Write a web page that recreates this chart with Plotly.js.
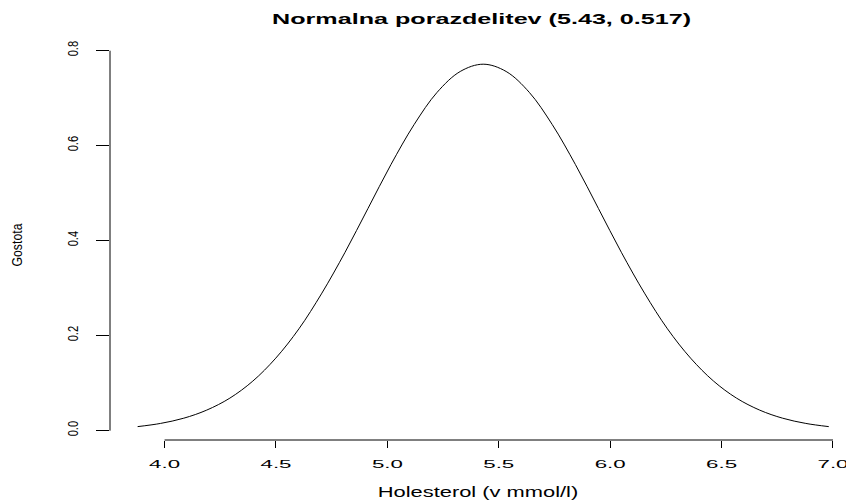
<!DOCTYPE html>
<html>
<head>
<meta charset="utf-8">
<script src="https://cdn.plot.ly/plotly-3.0.1.min.js"></script>
<style>html,body{margin:0;padding:0;background:#fff;}#chart{width:846px;height:500px;}</style>
</head>
<body>
<div id="chart"></div>
<script>
// Curve points (Holesterol vs. Gostota)
var holesterol = [3.879, 3.982, 4.086, 4.189, 4.293, 4.396, 4.499, 4.603, 4.706, 4.810, 4.913,
                  5.016, 5.120, 5.223, 5.327, 5.430, 5.533, 5.637, 5.740, 5.844, 5.947, 6.050,
                  6.154, 6.257, 6.361, 6.464, 6.567, 6.671, 6.774, 6.878, 6.981];
var gostota = [0.0086, 0.0153, 0.0263, 0.0433, 0.0686, 0.1044, 0.1527, 0.2145, 0.2896, 0.3756, 0.4680,
               0.5603, 0.6445, 0.7123, 0.7563, 0.7716, 0.7563, 0.7123, 0.6445, 0.5603, 0.4680, 0.3756,
               0.2896, 0.2145, 0.1527, 0.1044, 0.0686, 0.0433, 0.0263, 0.0153, 0.0086];
var xTicks = [4.0, 4.5, 5.0, 5.5, 6.0, 6.5, 7.0];
var xTickText = ["4.0", "4.5", "5.0", "5.5", "6.0", "6.5", "7.0"];
var yTicks = [0.0, 0.2, 0.4, 0.6, 0.8];
var yTickText = ["0.0", "0.2", "0.4", "0.6", "0.8"];
var chartTitle = "Normalna porazdelitev (5.43, 0.517)";
var xTitle = "Holesterol (v mmol/l)";
var yTitle = "Gostota";

var font = "Liberation Sans, Arial, Helvetica, sans-serif";

var trace = {
  x: holesterol, y: gostota, type: "scatter", mode: "lines",
  line: {color: "#000", width: 1, shape: "spline", smoothing: 1},
  hoverinfo: "x+y", showlegend: false
};

var layout = {
  width: 846, height: 500,
  margin: {l: 110, r: 0, t: 50, b: 60, pad: 0},
  paper_bgcolor: "#fff", plot_bgcolor: "#fff",
  font: {family: font, size: 12, color: "#000"},
  title: {
    text: chartTitle,
    font: {family: font, size: 15, color: "#000", weight: "bold"},
    xref: "container", x: 481.6 / 846, xanchor: "center",
    yref: "container", y: 1 - 19 / 500, yanchor: "middle"
  },
  xaxis: {
    range: [3.755, 3.755 + 736 / 222.8],
    tickvals: xTicks, ticktext: xTickText,
    ticks: "outside", ticklen: 7, tickwidth: 1, tickcolor: "#000",
    ticklabelstandoff: 7,
    showline: false, showgrid: false, zeroline: false,
    tickfont: {family: font, size: 10.5, color: "#000"},
    title: {text: xTitle, font: {family: font, size: 14, color: "#000"}, standoff: 29},
    automargin: false, fixedrange: true
  },
  yaxis: {
    range: [-0.0196, 0.8015],
    tickvals: yTicks, ticktext: yTickText, tickangle: -90,
    ticks: "outside", ticklen: 13, tickwidth: 1, tickcolor: "#000",
    ticklabelstandoff: 12,
    showline: false, showgrid: false, zeroline: false,
    tickfont: {family: font, size: 14, color: "#000"},
    title: {text: yTitle, font: {family: font, size: 15, color: "#000"}, standoff: 39},
    automargin: false, fixedrange: true
  },
  shapes: [
    {type: "line", xref: "x", yref: "paper", x0: 4.0, x1: 7.0, y0: 0, y1: 0, line: {color: "#000", width: 1}},
    {type: "line", xref: "paper", yref: "y", x0: 0, x1: 0, y0: 0.0, y1: 0.8, line: {color: "#000", width: 1}}
  ]
};

// The reference draws horizontal text stretched wide and rotated text narrow;
// reproduce that by fitting each real text element to its measured length.
function fitText(sel, len) {
  document.querySelectorAll(sel).forEach(function (el) {
    el.setAttribute("textLength", len);
    el.setAttribute("lengthAdjust", "spacingAndGlyphs");
  });
}

Plotly.newPlot("chart", [trace], layout, {displayModeBar: false, staticPlot: true}).then(function () {
  fitText("#chart .gtitle", 419);
  fitText("#chart .xtick text", 31);
  fitText("#chart .g-xtitle text", 200.5);
  fitText("#chart .ytick text", 15.5);
  fitText("#chart .g-ytitle text", 43);
});
</script>
</body>
</html>
